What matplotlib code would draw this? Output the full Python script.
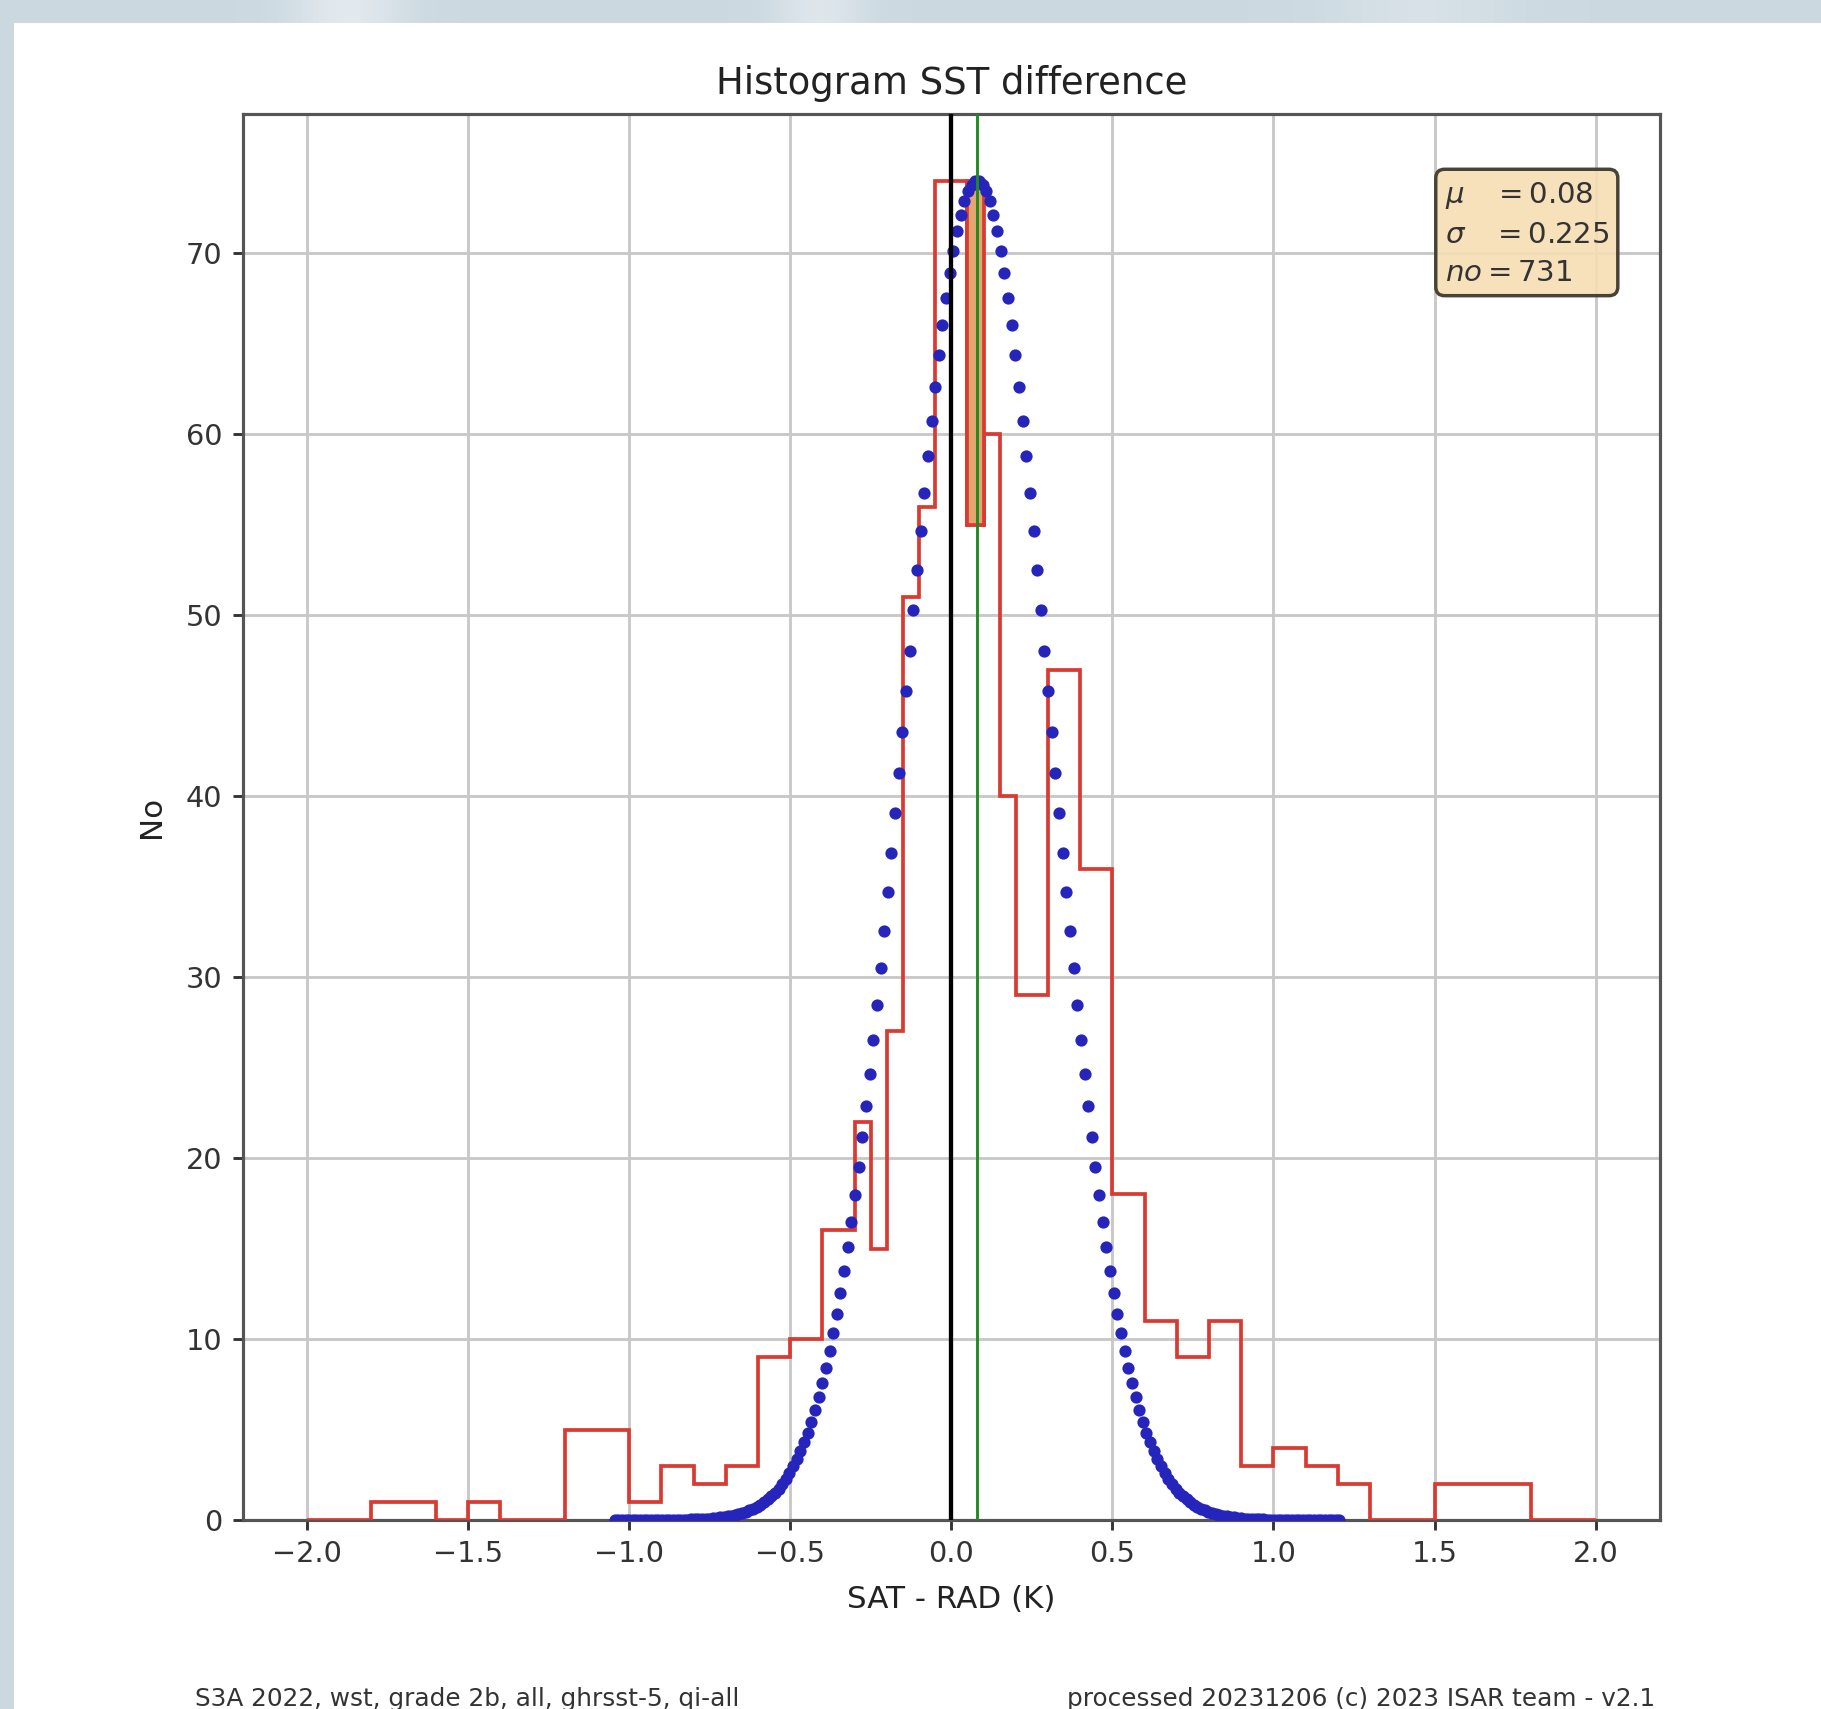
import numpy as np
import matplotlib
matplotlib.use("Agg")
import matplotlib.pyplot as plt
from matplotlib.patches import Rectangle

# ---------------- data ----------------
bin_edges = [-2.0, -1.8, -1.6, -1.5, -1.4, -1.2, -1.0, -0.9, -0.8, -0.7, -0.6,
             -0.5, -0.4, -0.3, -0.25, -0.2, -0.15, -0.1, -0.05, 0.05, 0.1,
             0.15, 0.2, 0.3, 0.4, 0.5, 0.6, 0.7, 0.8, 0.9, 1.0, 1.1, 1.2,
             1.3, 1.5, 1.8, 2.0]
counts = [0, 1, 0, 1, 0, 5, 1, 3, 2, 3, 9, 10, 16, 22, 15, 27, 51, 56, 74,
          55, 60, 40, 29, 47, 36, 18, 11, 9, 11, 3, 4, 3, 2, 0, 2, 0]
mu = 0.08
sigma = 0.225
n_obs = 731
notch_bin_left = 0.05          # narrow bin drawn as closed box up to the peak
x_ticks = [-2.0, -1.5, -1.0, -0.5, 0.0, 0.5, 1.0, 1.5, 2.0]
y_ticks = [0, 10, 20, 30, 40, 50, 60, 70]
title = "Histogram SST difference"
xlabel = "SAT - RAD (K)"
ylabel = "No"
footer_left = "S3A 2022, wst, grade 2b, all, ghrsst-5, qi-all"
footer_right = "processed 20231206 (c) 2023 ISAR team - v2.1"

# ---------------- figure ----------------
W, H, DPI = 1821, 1709, 207
fig = plt.figure(figsize=(W / DPI, H / DPI), dpi=DPI, facecolor="#d4dfe6")

# decorative backdrop (blurred bluish frame)
bg = fig.add_axes([0, 0, 1, 1], zorder=-10)
gx = np.linspace(0, 1, 400)
gy = np.linspace(0, 1, 400)
GX, GY = np.meshgrid(gx, gy)
base = np.array([0.80, 0.85, 0.88])
light = (np.exp(-((GX - 0.19) / 0.03) ** 2) + 0.8 * np.exp(-((GX - 0.45) / 0.025) ** 2)
         + 0.5 * np.exp(-((GX - 0.78) / 0.05) ** 2))
light = np.clip(light, 0, 1)[..., None]
img = base * (1 - 0.55 * light) + np.array([0.96, 0.97, 0.98]) * 0.55 * light
bg.imshow(img, extent=[0, 1, 0, 1], aspect="auto", origin="upper")
bg.set_xlim(0, 1)
bg.set_ylim(0, 1)
bg.axis("off")
bg.add_patch(Rectangle((14 / W, 0), 1, 1 - 23 / H, facecolor="white",
                       edgecolor="none", transform=bg.transAxes))

ax = fig.add_axes([0.1332, 0.1106, 0.9116 - 0.1332, 0.9333 - 0.1106])
ax.set_axisbelow(True)
ax.grid(True, color="#c8c8c8", linewidth=1.0)

red = "#d93a32"
ax.stairs(counts, bin_edges, color=red, linewidth=1.3, zorder=3)

# narrow notch bin outlined up to peak level
i = bin_edges.index(notch_bin_left)
peak = max(counts)
ax.add_patch(Rectangle((bin_edges[i], counts[i]), bin_edges[i + 1] - bin_edges[i],
                       peak - counts[i], facecolor="#e3a66f", edgecolor=red,
                       linewidth=1.3, zorder=3))

# gaussian fit from displayed mu/sigma, scaled to histogram maximum
xg = np.linspace(mu - 5 * sigma, mu + 5 * sigma, 200)
yg = peak * np.exp(-0.5 * ((xg - mu) / sigma) ** 2)
ax.plot(xg, yg, ".", color="#2525bb", markersize=6.5, zorder=4)

ax.axvline(0.0, color="black", linewidth=1.5, zorder=5)
ax.axvline(mu, color="#1f8a1f", linewidth=1.0, zorder=5)

ax.set_xlim(-2.2, 2.2)
ax.set_ylim(0, peak * 1.05)
ax.set_xticks(x_ticks)
ax.set_yticks(y_ticks)
ax.tick_params(labelsize=10, colors="#333333", width=1.0)
for s in ax.spines.values():
    s.set_color("#555555")
    s.set_linewidth(1.1)

ax.set_title(title, fontsize=12.9, color="#222222", pad=7)
ax.set_xlabel(xlabel, fontsize=10.8, color="#222222", labelpad=6)
ax.set_ylabel(ylabel, fontsize=10.8, color="#222222", labelpad=7)

stats = (r"$\mu\ \ \ =$" + f"{mu:.2f}" + "\n" + r"$\sigma\ \ \ =$" + f"{sigma:.3f}"
         + "\n" + r"$no=$" + f"{n_obs}")
ax.text(0.848, 0.953, stats, transform=ax.transAxes, fontsize=10.2, va="top",
        ha="left", color="#333333", zorder=6, linespacing=1.45,
        bbox=dict(boxstyle="round", facecolor=(0.96, 0.87, 0.70, 0.9),
                  edgecolor="#4a4236", linewidth=1.2))

fig.text(195 / W, 0.002, footer_left, fontsize=8.6, color="#333333", ha="left",
         va="baseline")
fig.text(1655 / W, 0.002, footer_right, fontsize=8.6, color="#333333", ha="right",
         va="baseline")

fig.savefig("out.png", dpi=DPI, facecolor=fig.get_facecolor())
